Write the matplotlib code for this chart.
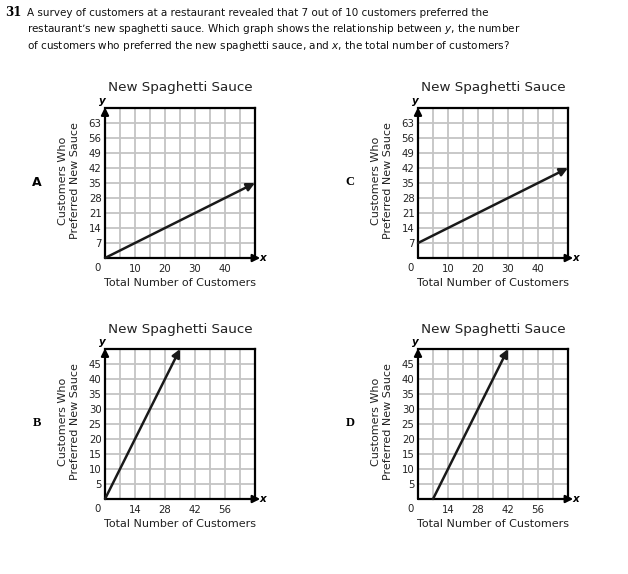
import numpy as np
import matplotlib
matplotlib.use("Agg")
import matplotlib.pyplot as plt

W, H = 628, 574
fig = plt.figure(figsize=(W / 100, H / 100), dpi=100)
fig.patch.set_facecolor("white")

# ---- data ----
question_number = "31"
question_lines = [
    "A survey of customers at a restaurant revealed that 7 out of 10 customers preferred the",
    "restaurant\u2019s new spaghetti sauce. Which graph shows the relationship between $\\it{y}$, the number",
    "of customers who preferred the new spaghetti sauce, and $\\it{x}$, the total number of customers?",
]
options = ["A", "B", "C", "D"]
chart_title = "New Spaghetti Sauce"
x_label = "Total Number of Customers"
y_label = "Customers Who\nPreferred New Sauce"

line_x_start = [0, 0, 0, 7]
line_y_start = [0, 0, 7, 0]
line_x_end = [50, 35, 50, 42]
line_y_end = [35, 50, 42, 50]

x_max = [50, 70, 50, 70]
y_max = [70, 50, 70, 50]
x_cell = [5, 7, 5, 7]
y_cell = [7, 5, 7, 5]
x_ticklabels_ac = [10, 20, 30, 40]
x_ticklabels_bd = [14, 28, 42, 56]
y_ticklabels_ac = [7, 14, 21, 28, 35, 42, 49, 56, 63]
y_ticklabels_bd = [5, 10, 15, 20, 25, 30, 35, 40, 45]
x_ticklabels = [x_ticklabels_ac, x_ticklabels_bd, x_ticklabels_ac, x_ticklabels_bd]
y_ticklabels = [y_ticklabels_ac, y_ticklabels_bd, y_ticklabels_ac, y_ticklabels_bd]

# ---- layout (pixels) ----
grid_left = [105, 105, 418, 418]
grid_top = [108, 349, 108, 349]
G = 150


def P(x, y):
    return x / W, 1 - y / H


FONT = "DejaVu Sans"

# question text
fig.text(*P(5, 13), question_number, fontsize=8.5, fontweight="bold",
         family="DejaVu Serif", va="center", ha="left")
for i, ln in enumerate(question_lines):
    fig.text(*P(27, 13 + 16.3 * i), ln, fontsize=7.5, family=FONT,
             va="center", ha="left", color="#111111")

for i, opt in enumerate(options):
    L, T = grid_left[i], grid_top[i]
    ax = fig.add_axes([L / W, 1 - (T + G) / H, G / W, G / H])
    ax.set_xlim(0, x_max[i])
    ax.set_ylim(0, y_max[i])
    ax.set_xticks(np.arange(0, x_max[i] + 0.1, x_cell[i]), minor=True)
    ax.set_yticks(np.arange(0, y_max[i] + 0.1, y_cell[i]), minor=True)
    ax.set_xticks(x_ticklabels[i])
    ax.set_yticks(y_ticklabels[i])
    ax.set_xticklabels([str(v) for v in x_ticklabels[i]])
    ax.set_yticklabels([str(v) for v in y_ticklabels[i]])
    ax.grid(True, which="both", color="#c4c4c4", lw=1.3)
    ax.set_axisbelow(True)
    ax.tick_params(which="both", length=0)
    ax.tick_params(axis="y", pad=2.5, labelsize=7.3, labelcolor="#222222")
    ax.tick_params(axis="x", pad=4.3, labelsize=7.3, labelcolor="#222222")
    for lab in ax.get_xticklabels() + ax.get_yticklabels():
        lab.set_family(FONT)
    for s in ("left", "bottom"):
        ax.spines[s].set_visible(False)
    for s in ("top", "right"):
        ax.spines[s].set_color("black")
        ax.spines[s].set_linewidth(1.6)

    # axes arrows
    ax.annotate("", xy=(0, 1.005), xytext=(0, 0), xycoords="axes fraction",
                textcoords="axes fraction", annotation_clip=False,
                arrowprops=dict(arrowstyle="-|>", color="black", lw=1.6,
                                mutation_scale=11, shrinkA=0, shrinkB=0))
    ax.annotate("", xy=(1.035, 0), xytext=(0, 0), xycoords="axes fraction",
                textcoords="axes fraction", annotation_clip=False,
                arrowprops=dict(arrowstyle="-|>", color="black", lw=1.6,
                                mutation_scale=11, shrinkA=0, shrinkB=0))
    # data line
    ax.annotate("", xy=(line_x_end[i], line_y_end[i]),
                xytext=(line_x_start[i], line_y_start[i]),
                annotation_clip=False,
                arrowprops=dict(arrowstyle="-|>", color="#1a1a1a", lw=1.8,
                                mutation_scale=12, shrinkA=0, shrinkB=0))

    cx = L + G / 2
    fig.text(*P(cx, T - 20), chart_title, fontsize=9.7, family=FONT,
             ha="center", va="center", color="#222222")
    fig.text(*P(cx, T + G + 25), x_label, fontsize=8.0, family=FONT,
             ha="center", va="center", color="#222222")
    fig.text(*P(L - 36, T + G / 2 - 2), y_label, fontsize=8.0, family=FONT,
             ha="center", va="center", rotation=90, multialignment="center",
             color="#222222", linespacing=1.15)
    fig.text(*P(L - 7, T + G + 10), "0", fontsize=7.3, family=FONT,
             ha="center", va="center", color="#222222")
    fig.text(*P(L - 3, T - 7), "y", fontsize=7.5, family=FONT, style="italic",
             fontweight="bold", ha="center", va="center")
    fig.text(*P(L + G + 8, T + G), "x", fontsize=7.5, family=FONT, style="italic",
             fontweight="bold", ha="center", va="center")
    fig.text(*P(L - 68, T + G / 2 - 1), opt, fontsize=9,
             family="DejaVu Sans" if opt == "A" else "Liberation Serif",
             fontweight="bold", ha="center", va="center")

fig.savefig("out.png", dpi=100, facecolor="white")
